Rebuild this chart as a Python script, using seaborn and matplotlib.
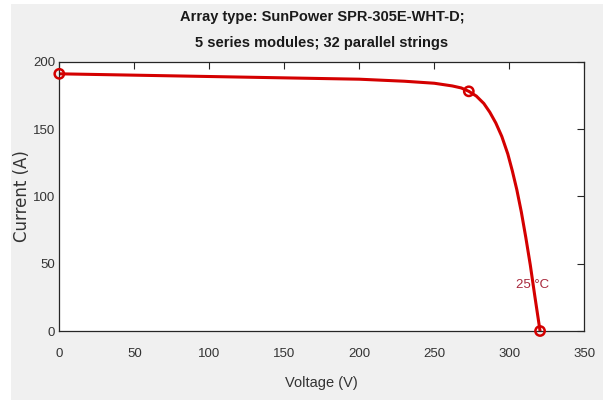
import matplotlib
matplotlib.use("Agg")
import matplotlib.pyplot as plt
from matplotlib.patches import Rectangle
import seaborn as sns
import pandas as pd

# Data
voltage = [0, 50, 100, 150, 200, 230, 250, 262, 268, 273, 278, 283, 287, 291, 295, 299,
           302, 305, 308, 311, 314, 317, 320.5]
current = [191, 190, 189, 188, 187, 185.5, 184, 182, 180.5, 178, 174.5, 169, 162.5, 154.5,
           144.5, 131.5, 119, 105, 88.5, 69.5, 49, 26, 0]
marker_v = [0, 273, 320.5]
marker_i = [191, 178, 0]
x_ticks = [0, 50, 100, 150, 200, 250, 300, 350]
y_ticks = [0, 50, 100, 150, 200]
title_lines = ["Array type: SunPower SPR-305E-WHT-D;", "5 series modules; 32 parallel strings"]
temp_label = "25 °C"

sns.set_theme(style="white")
narrow = ["Liberation Sans", "DejaVu Sans"]
plt.rcParams["font.family"] = narrow

fig = plt.figure(figsize=(6.03, 4.00), dpi=100, facecolor="white")
bg = Rectangle((11 / 603, 0), 1 - 11 / 603, 396 / 400,
               transform=fig.transFigure, facecolor="#f0f0f0",
               edgecolor="none", zorder=-10)
fig.patches.append(bg)
ax = fig.add_axes([59.3 / 603, 69 / 400, 525 / 603, 269.3 / 400])
ax.set_facecolor("white")

df = pd.DataFrame({"V": voltage, "I": current})
sns.lineplot(data=df, x="V", y="I", color="#d40000", linewidth=2.2, ax=ax, sort=False)
mk = pd.DataFrame({"V": marker_v, "I": marker_i})
sns.scatterplot(data=mk, x="V", y="I", ax=ax, s=45, marker="o",
                facecolor="none", edgecolor="#d40000", linewidth=1.8, zorder=5, clip_on=False)

ax.text(304.5, 34, temp_label, color="#a8283c", fontsize=9.5, ha="left", va="center",
        family=narrow)

ax.set_xlim(0, 350)
ax.set_ylim(0, 200)
ax.set_xticks(x_ticks)
ax.set_yticks(y_ticks)
ax.tick_params(direction="in", length=5, width=0.8, colors="#262626",
               top=True, right=True, labelsize=9.5, labelcolor="#333333")
ax.tick_params(axis="x", pad=12)
ax.tick_params(axis="y", pad=3)
for sp in ax.spines.values():
    sp.set_color("#262626")
    sp.set_linewidth(0.9)

ax.set_xlabel("Voltage (V)", fontsize=10.5, color="#333333", labelpad=12, family=narrow)
ax.set_ylabel("Current (A)", fontsize=12, color="#333333", labelpad=1,
              family=["DejaVu Sans"])

fig.text(322 / 603, 1 - 17 / 400, title_lines[0], ha="center", va="center",
         fontsize=10.5, fontweight="bold", color="#1a1a1a", family=narrow)
fig.text(322 / 603, 1 - 43 / 400, title_lines[1], ha="center", va="center",
         fontsize=10.5, fontweight="bold", color="#1a1a1a", family=narrow)

fig.savefig("out.png", dpi=100, facecolor=fig.get_facecolor())
